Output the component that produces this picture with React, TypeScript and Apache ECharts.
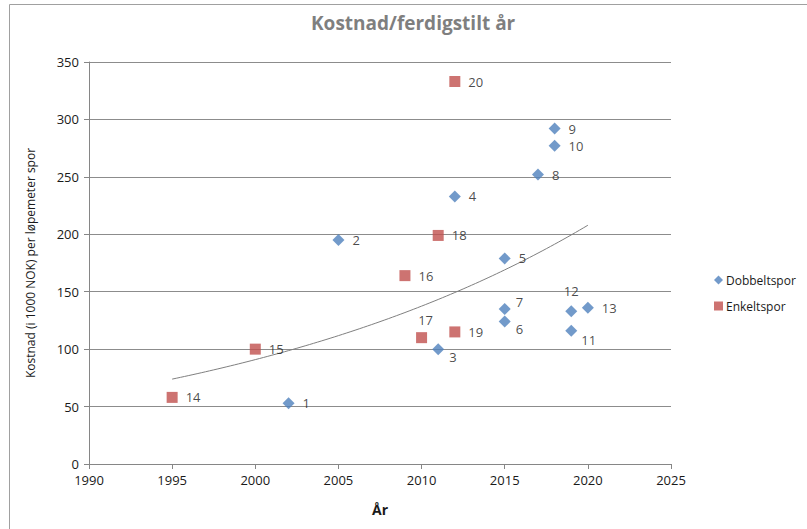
import React, { useEffect, useRef } from "react";
import * as echarts from "echarts";

// Dobbeltspor (double track)
const dobbeltIds = [1, 2, 3, 4, 5, 6, 7, 8, 9, 10, 11, 12, 13];
const dobbeltYears = [2002, 2005, 2011, 2012, 2015, 2015, 2015, 2017, 2018, 2018, 2019, 2019, 2020];
const dobbeltCost = [53, 195, 100, 233, 179, 124, 135, 252, 292, 277, 116, 133, 136];

// Enkeltspor (single track)
const enkeltIds = [14, 15, 16, 17, 18, 19, 20];
const enkeltYears = [1995, 2000, 2009, 2010, 2011, 2012, 2012];
const enkeltCost = [58, 100, 164, 110, 199, 115, 333];

const xTicks = [1990, 1995, 2000, 2005, 2010, 2015, 2020, 2025];
const yTicks = [0, 50, 100, 150, 200, 250, 300, 350];

const FONT = "'Open Sans', sans-serif";

// label placements (style only)
const labelStyle: Record<number, any> = {
  3: { position: "right", offset: [-3, 8] },
  6: { position: "right", offset: [-3, 7] },
  7: { position: "right", offset: [-3, -7] },
  11: { position: "right", offset: [-4, 9] },
  12: { position: "top", offset: [0, 0] },
  17: { position: "top", offset: [4, 2] },
};

function expTrend(xs: number[], ys: number[]) {
  const n = xs.length;
  const lx = xs.map((x) => x - 2000);
  const ly = ys.map((y) => Math.log(y));
  const mx = lx.reduce((a, b) => a + b, 0) / n;
  const my = ly.reduce((a, b) => a + b, 0) / n;
  let sxy = 0;
  let sxx = 0;
  for (let i = 0; i < n; i++) {
    sxy += (lx[i] - mx) * (ly[i] - my);
    sxx += (lx[i] - mx) * (lx[i] - mx);
  }
  const b = sxy / sxx;
  const a = my - b * mx;
  const minX = Math.min(...xs);
  const maxX = Math.max(...xs);
  const pts: number[][] = [];
  for (let x = minX; x <= maxX + 1e-9; x += 0.25) {
    pts.push([x, Math.exp(a + b * (x - 2000))]);
  }
  return pts;
}

function buildPoints(ids: number[], years: number[], cost: number[]) {
  return ids.map((id, i) => {
    const item: any = { value: [years[i], cost[i], id] };
    if (labelStyle[id]) item.label = labelStyle[id];
    return item;
  });
}

export default function App() {
  const ref = useRef<HTMLDivElement>(null);
  useEffect(() => {
    if (!ref.current) return;
    const chart = echarts.init(ref.current, null, { renderer: "svg" });
    const allX = [...dobbeltYears, ...enkeltYears];
    const allY = [...dobbeltCost, ...enkeltCost];
    const trend = expTrend(allX, allY);
    const axisLabel = { color: "#1a1a1a", fontFamily: FONT, fontSize: 13 };
    const pointLabel = {
      show: true,
      position: "right",
      distance: 8,
      color: "#1a1a1a",
      fontFamily: FONT,
      fontSize: 13,
      formatter: (p: any) => String(p.value[2]),
    };
    chart.setOption({
      animation: false,
      backgroundColor: "#fff",
      title: {
        text: "Kostnad/ferdigstilt år",
        left: 306,
        top: 8,
        textStyle: { color: "#7f7f7f", fontFamily: FONT, fontSize: 19, fontWeight: "bold" },
      },
      graphic: [
        {
          type: "rect",
          shape: { x: 9.5, y: 4.5, width: 1000, height: 1000 },
          style: { fill: "none", stroke: "#a0a0a0", lineWidth: 1 },
          silent: true,
        },
      ],
      legend: {
        orient: "vertical",
        left: 709,
        top: 268,
        itemWidth: 9,
        itemHeight: 9,
        itemGap: 12,
        data: ["Dobbeltspor", "Enkeltspor"],
        textStyle: { color: "#1a1a1a", fontFamily: FONT, fontSize: 12, lineHeight: 14, padding: [0, 0, 0, -2] },
      },
      grid: { left: 89, right: 136, top: 62, bottom: 65 },
      xAxis: {
        type: "value",
        min: xTicks[0],
        max: xTicks[xTicks.length - 1],
        interval: 5,
        name: "År",
        nameLocation: "middle",
        nameGap: 38,
        nameTextStyle: { color: "#1a1a1a", fontFamily: FONT, fontSize: 14, fontWeight: "bold" },
        axisLine: { show: true, lineStyle: { color: "#868686" } },
        axisTick: { show: true, inside: false, length: 5, lineStyle: { color: "#868686" } },
        axisLabel: { ...axisLabel, margin: 9, formatter: (v: number) => String(v) },
        splitLine: { show: false },
      },
      yAxis: {
        type: "value",
        min: yTicks[0],
        max: yTicks[yTicks.length - 1],
        interval: 50,
        name: "Kostnad (i 1000 NOK) per løpemeter spor",
        nameLocation: "middle",
        nameGap: 53,
        nameTextStyle: { color: "#1a1a1a", fontFamily: FONT, fontSize: 12 },
        axisLine: { show: true, lineStyle: { color: "#868686" } },
        axisTick: { show: true, inside: false, length: 5, lineStyle: { color: "#868686" } },
        axisLabel: { ...axisLabel, margin: 10 },
        splitLine: { show: true, lineStyle: { color: "#8c8c8c", width: 1 } },
      },
      series: [
        {
          name: "Dobbeltspor",
          type: "scatter",
          symbol: "diamond",
          symbolSize: 12,
          itemStyle: { color: "#4f81bd" },
          label: pointLabel,
          data: buildPoints(dobbeltIds, dobbeltYears, dobbeltCost),
          z: 3,
        },
        {
          name: "Enkeltspor",
          type: "scatter",
          symbol: "rect",
          symbolSize: 11,
          itemStyle: { color: "#c0504d" },
          label: pointLabel,
          data: buildPoints(enkeltIds, enkeltYears, enkeltCost),
          z: 3,
        },
        {
          name: "Trend",
          type: "line",
          data: trend,
          showSymbol: false,
          symbol: "none",
          smooth: false,
          lineStyle: { color: "#7f7f7f", width: 1 },
          silent: true,
          z: 2,
        },
      ],
    });
    return () => chart.dispose();
  }, []);
  return (
    <div
      ref={ref}
      style={{ position: "fixed", left: 0, top: 0, width: 807, height: 529 }}
    />
  );
}
